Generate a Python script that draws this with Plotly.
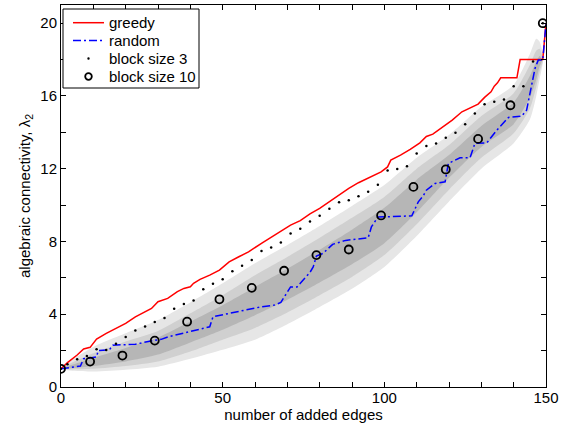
import plotly.graph_objects as go

# ---------------- data ----------------
greedy_x = [0, 2, 5, 7, 9, 11, 14, 17, 20, 23, 26, 28, 30, 33, 36, 38, 40, 41, 43, 46, 49, 52, 55, 58,
            62, 65, 68, 71, 74, 77, 80, 83, 86, 89, 92, 96, 99, 101, 102, 105, 108, 111, 113, 115,
            118, 121, 124, 127, 129, 131, 133, 134, 135, 136, 141, 142, 149, 150]
greedy_y = [1.0, 1.34, 1.76, 2.09, 2.18, 2.64, 2.95, 3.22, 3.5, 3.86, 4.14, 4.32, 4.69, 4.87, 5.24, 5.42,
            5.51, 5.7, 5.92, 6.15, 6.43, 6.88, 7.16, 7.43, 7.9, 8.23, 8.57, 8.9, 9.15, 9.52, 9.82,
            10.18, 10.55, 10.92, 11.23, 11.56, 11.83, 12.1, 12.47, 12.75, 13.06, 13.42, 13.77, 13.9,
            14.3, 14.67, 15.13, 15.4, 15.55, 15.92, 16.23, 16.54, 16.72, 17.0, 17.0, 18.0, 18.0, 20.0]

random_x = [0, 4, 6, 7, 11, 11.5, 15, 16, 23, 27, 31, 33, 38, 43, 46, 47, 50, 57, 62, 66, 68, 69,
            71, 73, 75.5, 77, 78, 79, 81, 84, 88, 95, 96, 98, 108.5, 110.5, 112, 113, 115.7, 118.8,
            119.8, 123.4, 126.5, 128, 131.7, 134.8, 138.4, 142.5, 144, 145.6, 146.6, 147.6, 149, 150]
random_y = [1.0, 1.1, 1.15, 1.55, 1.65, 2.0, 2.05, 2.3, 2.35, 2.5, 2.62, 2.75, 2.98, 3.17, 3.31, 3.86,
            3.96, 4.23, 4.41, 4.5, 4.65, 4.96, 5.5, 5.5, 5.97, 6.3, 6.6, 7.2, 7.34, 7.84, 8.06, 8.2,
            8.8, 9.34, 9.41, 10.18, 10.5, 10.82, 11.19, 11.28, 12.29, 12.6, 12.6, 13.39, 13.42,
            14.12, 14.82, 14.89, 15.22, 16.69, 17.51, 17.97, 17.97, 20.0]

block3_x = [0, 2, 5, 8, 11, 14, 17, 20, 23, 26, 29, 32, 35, 38, 41, 44, 47, 50, 53, 56, 59, 62, 65,
            68, 71, 74, 77, 80, 83, 86, 89, 92, 95, 98, 101, 104, 107, 110, 113, 116, 119, 122, 125,
            128, 131, 134, 137, 140, 143, 146, 149]
block3_y = [1.0, 1.25, 1.53, 1.70, 2.07, 2.03, 2.38, 2.75, 3.1, 3.33, 3.58, 3.8, 4.3, 4.56, 4.75,
            5.38, 5.67, 5.93, 6.37, 6.66, 6.98, 7.47, 7.67, 7.95, 8.44, 8.7, 9.1, 9.41, 9.8, 10.15,
            10.27, 10.49, 10.73, 11.12, 11.9, 11.98, 12.14, 12.84, 13.25, 13.39, 13.7, 13.98, 14.45,
            15.03, 15.55, 15.68, 15.8, 16.54, 16.54, 17.9, 20.0]

block10_x = [0, 9, 19, 29, 39, 49, 59, 69, 79, 89, 99, 109, 119, 129, 139, 149]
block10_y = [1.0, 1.4, 1.73, 2.55, 3.59, 4.82, 5.45, 6.39, 7.25, 7.56, 9.43, 11.0, 11.96, 13.64,
             15.49, 20.0]

# grey percentile bands: outer (light), middle, inner (dark)
band_x = [0, 10, 20, 30, 40, 50, 60, 70, 80, 90, 100, 110, 120, 130, 140, 145, 147, 148, 149]
band_outer_lo = [1.0, 0.85, 0.95, 1.12, 1.55, 2.05, 2.6, 3.45, 4.4, 5.4, 6.6, 8.3, 10.2, 12.0, 13.4, 14.7, 16.0, 16.9, 17.8]
band_mid_lo = [1.0, 1.0, 1.15, 1.4, 1.95, 2.6, 3.25, 4.1, 5.05, 6.05, 7.25, 8.95, 10.85, 12.6, 13.95, 15.3, 16.5, 17.3, 17.9]
band_inner_lo = [1.0, 1.15, 1.4, 1.78, 2.45, 3.15, 3.95, 4.8, 5.75, 6.75, 7.9, 9.6, 11.5, 13.2, 14.45, 15.9, 16.9, 17.6, 18.0]
band_inner_hi = [1.0, 1.6, 2.15, 2.72, 3.6, 4.5, 5.5, 6.5, 7.55, 8.65, 9.85, 11.4, 12.75, 14.35, 15.65, 17.1, 17.9, 18.2, 18.0]
band_mid_hi = [1.0, 1.85, 2.5, 3.08, 4.05, 5.05, 6.15, 7.15, 8.2, 9.3, 10.45, 12.0, 13.3, 14.9, 16.15, 17.7, 18.5, 18.6, 18.1]
band_outer_hi = [1.0, 2.2, 2.95, 3.68, 4.65, 5.7, 6.8, 7.8, 8.85, 9.95, 11.1, 12.6, 13.85, 15.4, 16.6, 18.3, 19.15, 19.0, 18.3]

x_ticks_labeled = [0, 50, 100, 150]
x_minor_step = 10
y_ticks_labeled = [0, 4, 8, 12, 16, 20]
y_minor_step = 2

legend_labels = ["greedy", "random", "block size 3", "block size 10"]

band_colors = ["#e6e6e6", "#d0d0d0", "#b6b6b6"]
red = "#ff0000"
blue = "#0000ff"
blue_dash = "8px,3px,2px,3px"

# ---------------- layout geometry (pixels) ----------------
W, H = 565, 426
ML, MR, MT, MB = 61, 19, 5, 39
PW, PH = W - ML - MR, H - MT - MB


def px(X):
    return (X - ML) / PW


def py(Y):
    return (H - MB - Y) / PH


# ---------------- figure ----------------
fig = go.Figure()

for lo, hi, col in [(band_outer_lo, band_outer_hi, band_colors[0]),
                    (band_mid_lo, band_mid_hi, band_colors[1]),
                    (band_inner_lo, band_inner_hi, band_colors[2])]:
    fig.add_trace(go.Scatter(
        x=band_x + band_x[::-1], y=lo + hi[::-1], fill="toself", fillcolor=col,
        line=dict(width=0, color=col, shape="spline", smoothing=0.6), mode="lines",
        showlegend=False, hoverinfo="skip"))

fig.add_trace(go.Scatter(x=greedy_x, y=greedy_y, mode="lines", name=legend_labels[0],
                         showlegend=False, line=dict(color=red, width=1.5)))
fig.add_trace(go.Scatter(x=random_x, y=random_y, mode="lines", name=legend_labels[1],
                         showlegend=False, line=dict(color=blue, width=1.5, dash=blue_dash)))
fig.add_trace(go.Scatter(x=block3_x, y=block3_y, mode="markers", name=legend_labels[2],
                         showlegend=False, marker=dict(color="black", size=2.5, symbol="circle")))
fig.add_trace(go.Scatter(x=block10_x, y=block10_y, mode="markers", name=legend_labels[3],
                         showlegend=False,
                         marker=dict(color="black", size=8, symbol="circle-open",
                                     line=dict(color="black", width=1.8))))

font_family = "Liberation Sans, Arial, Helvetica, sans-serif"

# ---------------- legend drawn as shapes + text ----------------
box = dict(x0=63, x1=199, y0=9, y1=88)
rows_y = [22.7, 40.5, 58.5, 76.5]
sym_x0, sym_x1, text_x = 73, 104, 107.5
sym_cx = (sym_x0 + sym_x1) / 2

shapes = [
    dict(type="rect", xref="paper", yref="paper", layer="above",
         x0=px(box["x0"]), x1=px(box["x1"]), y0=py(box["y1"]), y1=py(box["y0"]),
         fillcolor="white", line=dict(color="black", width=1)),
    dict(type="line", xref="paper", yref="paper", layer="above",
         x0=px(sym_x0), x1=px(sym_x1), y0=py(rows_y[0]), y1=py(rows_y[0]),
         line=dict(color=red, width=1.5)),
    dict(type="line", xref="paper", yref="paper", layer="above",
         x0=px(sym_x0), x1=px(sym_x1), y0=py(rows_y[1]), y1=py(rows_y[1]),
         line=dict(color=blue, width=1.5, dash=blue_dash)),
    dict(type="circle", xref="paper", yref="paper", layer="above",
         x0=px(sym_cx - 1.2), x1=px(sym_cx + 1.2), y0=py(rows_y[2] + 1.2), y1=py(rows_y[2] - 1.2),
         fillcolor="black", line=dict(color="black", width=0)),
    dict(type="circle", xref="paper", yref="paper", layer="above",
         x0=px(sym_cx - 3.3), x1=px(sym_cx + 3.3), y0=py(rows_y[3] + 3.3), y1=py(rows_y[3] - 3.3),
         fillcolor="rgba(0,0,0,0)", line=dict(color="black", width=1.8)),
]

annotations = [
    dict(text=lab, xref="paper", yref="paper", x=px(text_x), y=py(yy), xanchor="left",
         yanchor="middle", showarrow=False, borderpad=0,
         font=dict(family=font_family, size=15, color="black"))
    for lab, yy in zip(legend_labels, rows_y)
]

axis_common = dict(ticks="inside", ticklen=5, tickcolor="black", showline=True,
                   linecolor="black", linewidth=1, mirror="allticks", showgrid=False,
                   zeroline=False, automargin=False)

fig.update_layout(
    template="none",
    width=W, height=H,
    margin=dict(l=ML, r=MR, t=MT, b=MB),
    paper_bgcolor="white", plot_bgcolor="white",
    font=dict(family=font_family, size=15, color="black"),
    showlegend=False,
    shapes=shapes,
    annotations=annotations,
    xaxis=dict(range=[0, 150], tickmode="array", tickvals=x_ticks_labeled,
               ticklabelstandoff=-3,
               minor=dict(dtick=x_minor_step, tick0=0, ticks="inside", ticklen=5, tickcolor="black"),
               title=dict(text="number of added edges", standoff=0, font=dict(size=15)),
               **axis_common),
    yaxis=dict(range=[0, 21], tickmode="array", tickvals=y_ticks_labeled,
               minor=dict(dtick=y_minor_step, tick0=0, ticks="inside", ticklen=5, tickcolor="black"),
               title=dict(text="algebraic connectivity, λ<sub>2</sub>", standoff=6,
                          font=dict(size=15)),
               **axis_common),
)

fig.write_html("out.html")
